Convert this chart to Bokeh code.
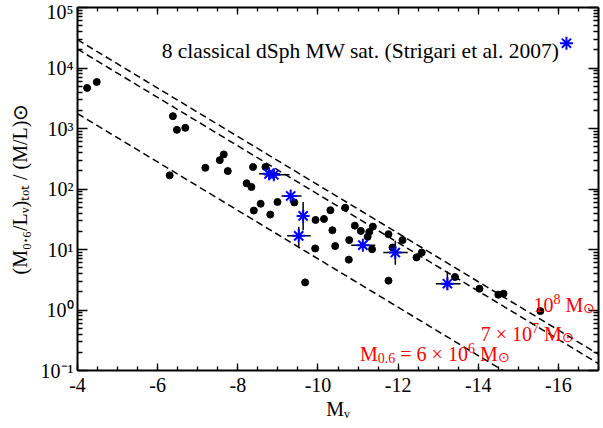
import math
from bokeh.plotting import figure
from bokeh.models import (Range1d, FixedTicker, LinearAxis, LogAxis, Label, ColumnDataSource,
                          CustomLabelingPolicy)
from bokeh.embed import file_html
from bokeh.resources import INLINE

# ---------------- data ----------------
# other dwarfs (black dots): absolute magnitude M_V and (M0.6/L_V)/(M/L)sun
dwarf_mv = [-4.24, -4.48, -6.38, -6.48, -6.69, -6.30, -7.19, -7.55, -7.65, -7.75,
            -8.38, -8.69, -8.22, -8.34, -8.57, -8.99, -8.40, -8.81, -9.41, -9.94,
            -10.15, -10.31, -10.68, -10.36, -10.92, -11.07, -11.37, -11.28, -11.24, -10.78,
            -10.43, -9.93, -11.35, -10.77, -9.68, -11.76, -11.76, -12.11, -11.86, -12.46,
            -12.59, -13.42, -14.03, -14.50, -14.63, -15.55]
dwarf_ml = [4680, 5870, 1600, 950, 1025, 168, 224, 300, 373, 198,
            231, 231, 124, 108, 57, 61, 44, 37.8, 60, 30.8,
            32, 44.6, 49, 20.8, 24.8, 20.3, 23.9, 19.5, 16.2, 14.3,
            11.4, 10.4, 10.1, 6.8, 2.86, 3.05, 17.9, 14.3, 10.8, 7.4,
            8.9, 3.51, 2.25, 1.79, 1.86, 0.96]

# 8 classical dSph MW satellites (Strigari et al. 2007), blue asterisks with error bars
dsph_mv    = [-8.78, -8.90, -9.32, -9.63, -9.52, -11.12, -11.93, -13.23]
dsph_ml    = [178, 172, 76.7, 35.9, 16.8, 11.8, 8.9, 2.72]
dsph_mv_lo = [-8.53, -8.66, -9.09, -9.63, -9.23, -10.83, -11.63, -12.94]
dsph_mv_hi = [-9.05, -9.29, -9.59, -9.63, -9.82, -11.43, -12.24, -13.56]
dsph_ml_lo = [178, 172, 76.7, 20.8, 11.1, 11.8, 5.6, 2.16]
dsph_ml_hi = [178, 172, 76.7, 61.0, 23.7, 11.8, 13.9, 4.33]

# constant-mass lines M0.6 (solar masses), M_V of the Sun
line_masses = [6e6, 7e7, 1e8]
sun_mv = 4.83
line_mv = [-4.0, -17.0]

x_ticks = [-4, -6, -8, -10, -12, -14, -16]
x_tick_labels = ["-4", "-6", "-8", "-10", "-12", "-14", "-16"]
y_ticks = [0.1, 1, 10, 100, 1000, 10000, 100000]
y_tick_labels = ["10\u207b\u00b9", "10\u2070", "10\u00b9", "10\u00b2", "10\u00b3", "10\u2074", "10\u2075"]
legend_text = "8 classical dSph MW sat. (Strigari et al. 2007)"
x_title = "M\u1d65"
y_title = "(M\u2080.\u2086/L\u1d65)\u209c\u2092\u209c / (M/L)\u2299"

FONT = "Liberation Serif"

# ---------------- figure ----------------
p = figure(width=603, height=428,
           x_range=Range1d(-4, -17), y_range=Range1d(0.1, 1e5),
           y_axis_type="log", output_backend="svg", toolbar_location=None,
           min_border_left=77, min_border_right=3, min_border_top=7, min_border_bottom=58)
p.grid.visible = False
p.outline_line_color = None
p.background_fill_color = "white"
p.border_fill_color = "white"

x_minor = [-4 - 0.5 * i for i in range(27)]
y_minor = [k * 10.0 ** e for e in range(-1, 5) for k in range(2, 10)]

hide_labels = CustomLabelingPolicy(code="for (const i of indices) { indices.unset(i) } return indices")


def style_axis(ax, ticks, minor, tin, min_in, overrides=None, standoff=5):
    ax.ticker = FixedTicker(ticks=ticks, minor_ticks=minor)
    ax.axis_line_width = 2
    ax.axis_line_color = "black"
    ax.major_tick_in = tin
    ax.major_tick_out = 0
    ax.minor_tick_in = min_in
    ax.minor_tick_out = 0
    ax.major_tick_line_width = 1.3
    ax.minor_tick_line_width = 1.3
    ax.major_tick_line_color = "black"
    ax.minor_tick_line_color = "black"
    if overrides is not None:
        ax.major_label_overrides = overrides
        ax.major_label_text_font = FONT
        ax.major_label_text_font_size = "20px"
        ax.major_label_text_color = "black"
        ax.major_label_standoff = standoff
    else:
        ax.major_label_policy = hide_labels
        ax.major_label_text_font_size = "1px"
        ax.major_label_standoff = 0


xa = p.xaxis[0]
ya = p.yaxis[0]
style_axis(xa, x_ticks, x_minor, 7, 4, {t: s for t, s in zip(x_ticks, x_tick_labels)}, standoff=7)
style_axis(ya, y_ticks, y_minor, 10, 5, {t: s for t, s in zip(y_ticks, y_tick_labels)}, standoff=4)
for ax, title, st in ((xa, x_title, 3), (ya, y_title, 7)):
    ax.axis_label = title
    ax.axis_label_text_font = FONT
    ax.axis_label_text_font_size = "20px"
    ax.axis_label_text_font_style = "normal"
    ax.axis_label_text_color = "black"
    ax.axis_label_standoff = st

top_ax = LinearAxis()
style_axis(top_ax, x_ticks, x_minor, 7, 4)
p.add_layout(top_ax, "above")
right_ax = LogAxis()
style_axis(right_ax, y_ticks, y_minor, 10, 5)
p.add_layout(right_ax, "right")

# ---------------- constant mass lines ----------------
for m in line_masses:
    ys = [m / 10 ** (-0.4 * (mv - sun_mv)) for mv in line_mv]
    p.line(line_mv, ys, line_color="black", line_width=1.5, line_dash="7 4")

# ---------------- points ----------------
p.scatter(dwarf_mv, dwarf_ml, size=7, marker="circle", fill_color="black", line_color="black")

src = ColumnDataSource(dict(mv=dsph_mv, ml=dsph_ml, mvlo=dsph_mv_lo, mvhi=dsph_mv_hi,
                            mllo=dsph_ml_lo, mlhi=dsph_ml_hi))
p.segment(x0="mvlo", y0="ml", x1="mvhi", y1="ml", source=src, line_color="black", line_width=1.5)
p.segment(x0="mv", y0="mllo", x1="mv", y1="mlhi", source=src, line_color="black", line_width=1.5)
p.scatter(x="mv", y="ml", source=src, marker="asterisk", size=13, line_color="#0000ff", line_width=2)

# legend (text + key on its right)
legend_key_x, legend_key_y = -16.20, 10 ** 4.41
p.add_layout(Label(x=-6.10, y=10 ** 4.275, text=legend_text, text_font=FONT,
                   text_font_size="21.5px", text_color="black", text_baseline="alphabetic"))
p.scatter([legend_key_x], [legend_key_y], marker="asterisk", size=13, line_color="#0000ff", line_width=2)

# ---------------- rich text helper ----------------
EM = {' ': 0.25, 'M': 0.889, 'L': 0.611, 'V': 0.722, '/': 0.278, '(': 0.333, ')': 0.333,
      '\u00d7': 0.564, '=': 0.564, '.': 0.25, 't': 0.278, 'o': 0.5, '\u2299': 0.8}
SIZES = {"n": 20, "sub": 14, "sup": 14}
SHIFT = {"n": 0, "sub": -4, "sup": 6}


def text_width(t, s):
    return sum(EM.get(c, 0.5) for c in t) * s


def rich(pieces, x, y, color):
    adv = 0.0
    for t, k in pieces:
        s = SIZES[k]
        lead = len(t) - len(t.lstrip(' '))
        off = adv + lead * EM[' '] * s
        p.add_layout(Label(x=x, y=y, x_offset=off, y_offset=SHIFT[k], text=t.strip(),
                           text_font=FONT, text_font_size=f"{s}px", text_color=color,
                           text_align="left", text_baseline="alphabetic"))
        adv += text_width(t, s)


RED = "#ff0000"
rich([("10", "n"), ("8", "sup"), (" M", "n"), ("\u2299", "sub")], -15.38, 10 ** 0.083, RED)
rich([("7 \u00d7 10", "n"), ("7", "sup"), (" M", "n"), ("\u2299", "sub")], -14.06, 10 ** -0.395, RED)
rich([("M", "n"), ("0.6", "sub"), (" = 6 \u00d7 10", "n"), ("6", "sup"), (" M", "n"), ("\u2299", "sub")],
     -11.05, 10 ** -0.725, RED)

open("out.html", "w").write(file_html(p, INLINE))
